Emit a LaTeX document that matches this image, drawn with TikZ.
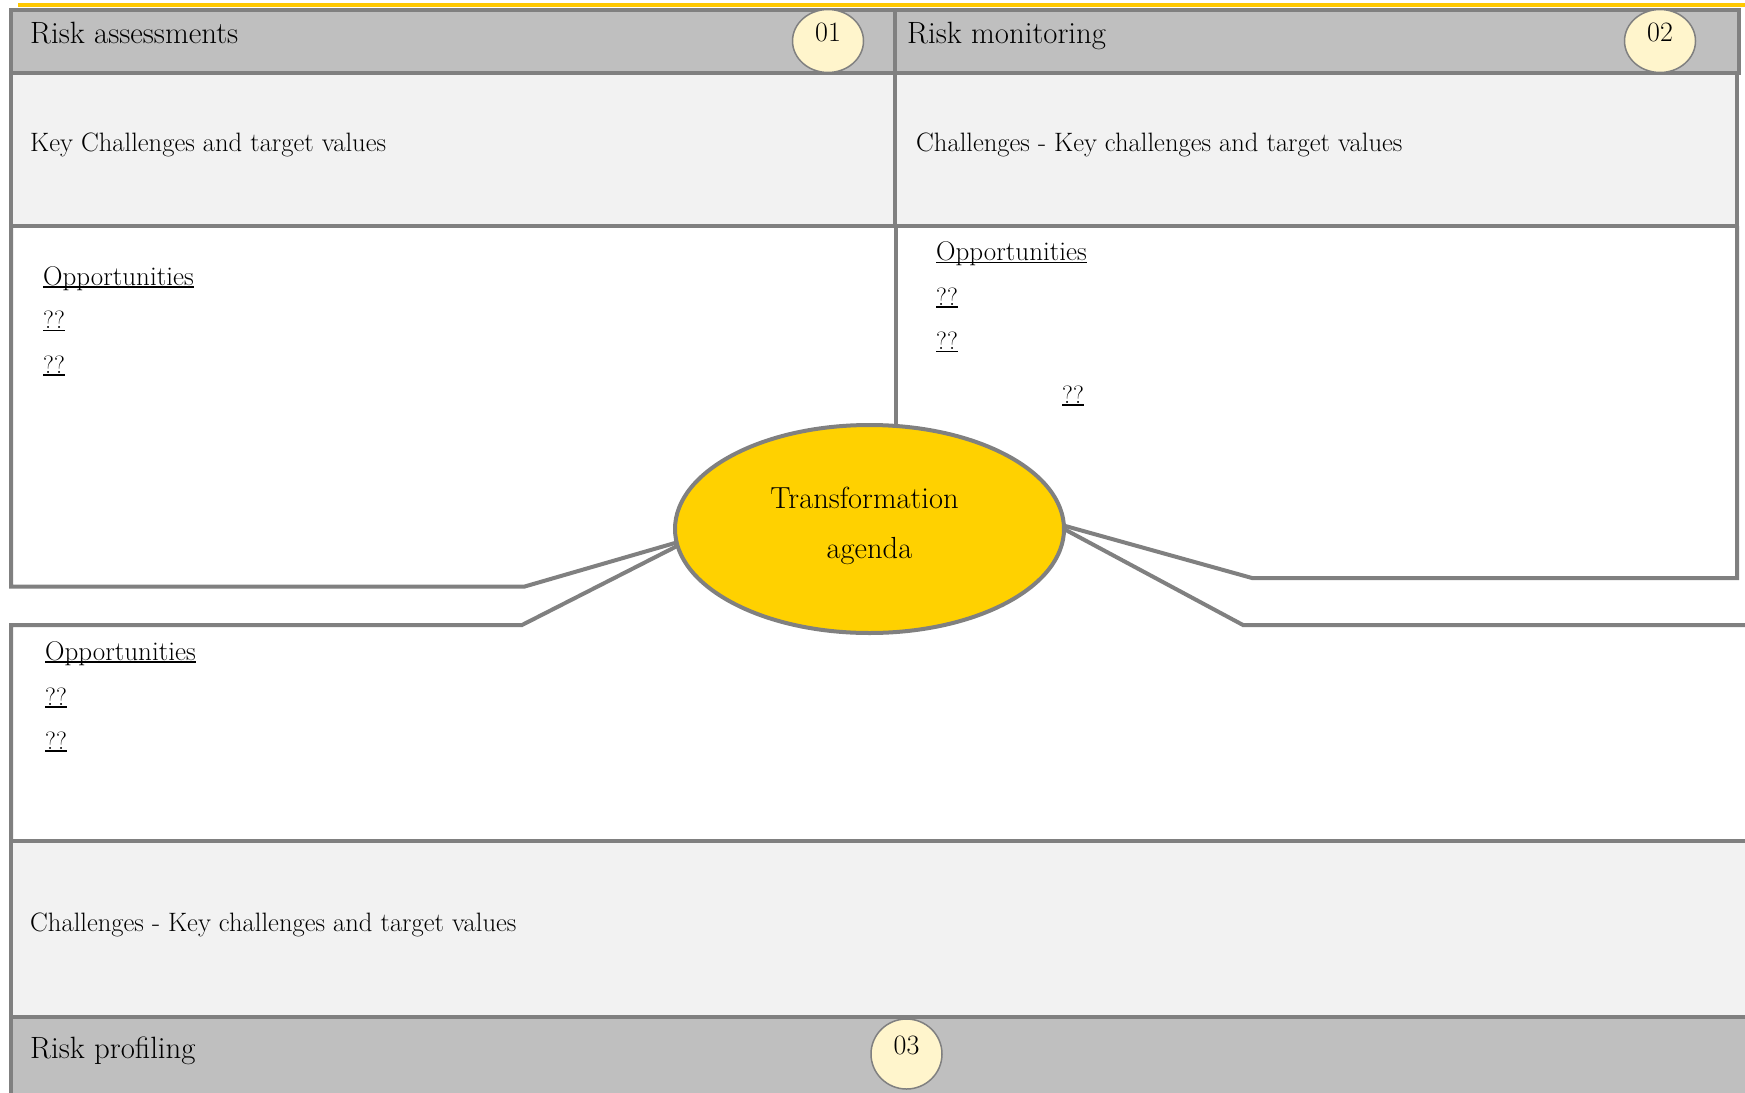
\documentclass[tikz,border=0pt]{standalone}
\usepackage{fontspec}
\usetikzlibrary{shapes.geometric}
\definecolor{bordergray}{HTML}{808080}
\definecolor{hdrgray}{HTML}{BFBFBF}
\definecolor{lightfill}{HTML}{F2F2F2}
\definecolor{goldfill}{HTML}{FFD100}
\definecolor{topyellow}{HTML}{FFC800}
\definecolor{numfill}{HTML}{FFF5CC}
\newcommand\myul[1]{\setbox0=\hbox{#1}\rlap{\rule[-2.5pt]{\wd0}{1.3pt}}\box0}
\begin{document}
\begin{tikzpicture}[x=1pt,y=-1pt,
  frame/.style={draw=bordergray,line width=4pt},
  link/.style={draw=bordergray,line width=4pt,line join=miter},
  hdrtext/.style={anchor=base west,inner sep=0pt,font=\fontsize{30.8}{36}\selectfont},
  chtext/.style={anchor=base west,inner sep=0pt,font=\fontsize{26.6}{32}\selectfont},
  opptext/.style={anchor=base west,inner sep=0pt,font=\fontsize{25}{30}\selectfont},
  opphead/.style={anchor=base west,inner sep=0pt,font=\fontsize{27}{32}\selectfont},
  numcircle/.style={ellipse,draw=bordergray,line width=1.5pt,fill=numfill,
    minimum width=71pt,minimum height=63pt,inner sep=0pt,
    text height=17pt,text depth=17pt,font=\fontsize{28}{32}\selectfont},
  agendastyle/.style={ellipse,draw=bordergray,line width=4pt,fill=goldfill,
    minimum width=389pt,minimum height=208pt,inner sep=0pt,outer sep=0pt,
    align=center,font=\fontsize{30.5}{50}\selectfont}
]
\path[use as bounding box] (0,0) rectangle (1745,1092);
\fill[white] (0,0) rectangle (1745,1092);
\begin{scope}
\clip (0,0) rectangle (1745,1092);
% fills
\fill[hdrgray] (11,9.5) rectangle (1738.5,73);
\fill[lightfill] (11,73) rectangle (1737,226);
\fill[lightfill] (11,841) rectangle (1760,1017);
\fill[hdrgray] (11,1017) rectangle (1760,1100);
% top yellow rule
\draw[topyellow,line width=3.4pt] (18,5) -- (1750,5);
% top rows
\draw[frame] (11,9.5) rectangle (895,73);
\draw[frame] (895,9.5) rectangle (1738.5,73);
\draw[frame] (11,73) rectangle (895,226);
\draw[frame] (895,73) rectangle (1737,226);
% centre ellipse
\node[agendastyle] (agenda) at (869.5,529) {Transformation\hspace*{10pt}\\agenda\rule[-13pt]{0pt}{0pt}};
% coordinates
\coordinate (dv) at (896,226);
\coordinate (lA) at (11,226);
\coordinate (lB) at (11,586.7);
\coordinate (lC) at (524,586.7);
\coordinate (rA) at (1737,226);
\coordinate (rB) at (1737,578);
\coordinate (rC) at (1252,578);
\coordinate (bA) at (1760,625);
\coordinate (bB) at (1243,625);
\coordinate (bC) at (522,625);
\coordinate (bD) at (11,625);
\coordinate (bE) at (11,841);
\coordinate (bF) at (11,1017);
\coordinate (bG) at (1760,841);
\coordinate (bH) at (1760,1017);
\coordinate (bI) at (11,1100);
% connectors
\draw[link] (dv) -- (dv |- agenda.north);
\draw[link] (lA) -- (lB) -- (lC) -- (agenda.184);
\draw[link] (rA) -- (rB) -- (rC) -- (agenda.1.8);
\draw[link] (bA) -- (bB) -- (agenda.0.6);
\draw[link] (agenda.185.5) -- (bC) -- (bD) -- (bE);
% bottom boxes
\draw[frame] (bI) -- (bE) -- (bG);
\draw[frame] (bF) -- (bH);
% number circles
\node[numcircle] (n1) at (828,41) {01};
\node[numcircle] (n2) at (1660,41) {02};
\node[numcircle,minimum height=70pt] (n3) at (906.5,1054) {03};
% texts
\node[hdrtext] (t1) at (30,43) {Risk assessments};
\node[hdrtext] (t2) at (907,43) {Risk monitoring};
\node[hdrtext] (t3) at (30,1058) {Risk profiling};
\node[chtext] (c1) at (30,151) {Key Challenges and target values};
\node[chtext] (c2) at (916,151) {Challenges - Key challenges and target values};
\node[chtext] (c3) at (30,931) {Challenges - Key challenges and target values};
% opportunities top-left
\node[opphead] (o1) at (43,285) {\myul{Opportunities}};
\node[opptext] (o1a) at (43,328.5) {\myul{??}};
\node[opptext] (o1b) at (43,373) {\myul{??}};
% opportunities top-right
\node[opphead] (o2) at (936,260.5) {\myul{Opportunities}};
\node[opptext] (o2a) at (936,305) {\myul{??}};
\node[opptext] (o2b) at (936,349.5) {\myul{??}};
\node[opptext] (o2c) at (1062,403) {\myul{??}};
% opportunities bottom
\node[opphead] (o3) at (45,660) {\myul{Opportunities}};
\node[opptext] (o3a) at (45,705) {\myul{??}};
\node[opptext] (o3b) at (45,749) {\myul{??}};
\end{scope}
\end{tikzpicture}
\end{document}
